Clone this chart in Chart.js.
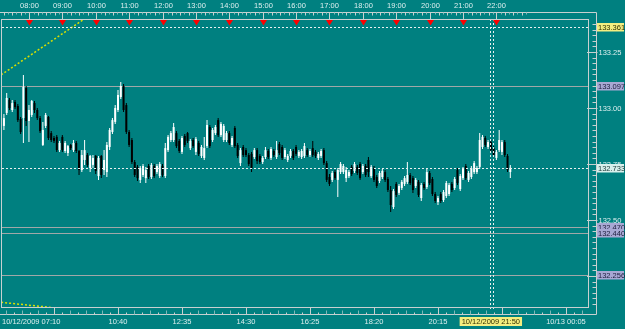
<!DOCTYPE html>
<html><head><meta charset="utf-8">
<script src="https://cdn.jsdelivr.net/npm/chart.js@4/dist/chart.umd.min.js"></script>
<style>html,body{margin:0;padding:0;background:#008080;overflow:hidden}canvas{display:block}</style>
</head><body>
<div style="width:625px;height:329px"><canvas id="c" width="625" height="329"></canvas></div>
<script>
// ---- data ----
const sessionStart = "07:10";      // time of minute 0
const barMinutes = 5;              // M5 candles, first drawn bar = 07:15
const open = [132.920,132.978,133.036,132.991,133.027,133.009,132.951,132.955,133.089,132.942,
132.969,133.022,132.991,132.955,132.835,132.920,132.960,132.888,132.866,132.871,
132.812,132.871,132.808,132.799,132.835,132.812,132.844,132.808,132.723,132.768,
132.790,132.732,132.746,132.786,132.696,132.786,132.723,132.714,132.826,132.893,
132.938,132.991,133.049,133.098,133.013,132.893,132.857,132.759,132.737,132.679,
132.701,132.687,132.741,132.692,132.741,132.714,132.696,132.741,132.696,132.812,
132.857,132.857,132.888,132.853,132.804,132.875,132.888,132.821,132.857,132.804,
132.844,132.786,132.777,132.830,132.915,132.857,132.888,132.946,132.879,132.857,
132.857,132.888,132.835,132.911,132.835,132.754,132.826,132.812,132.790,132.795,
132.781,132.812,132.786,132.759,132.781,132.808,132.777,132.808,132.781,132.839,
132.826,132.781,132.768,132.786,132.808,132.826,132.786,132.781,132.786,132.812,
132.790,132.821,132.804,132.777,132.786,132.812,132.754,132.692,132.679,132.714,
132.679,132.714,132.714,132.687,132.696,132.737,132.719,132.737,132.750,132.714,
132.741,132.768,132.696,132.732,132.692,132.674,132.692,132.714,132.683,132.634,
132.558,132.661,132.621,132.643,132.661,132.670,132.701,132.687,132.652,132.670,
132.598,132.661,132.647,132.710,132.683,132.616,132.580,132.616,132.589,132.607,
132.616,132.661,132.643,132.723,132.638,132.687,132.741,132.679,132.692,132.714,
132.714,132.737,132.826,132.866,132.826,132.848,132.821,132.777,132.812,132.804,
132.848,132.786,132.714];
const high = [132.973,133.067,133.045,133.036,133.036,133.018,132.960,133.147,133.098,133.013,
133.036,133.031,133.000,132.964,132.938,132.978,132.964,132.897,132.875,132.879,
132.853,132.879,132.853,132.835,132.839,132.857,132.853,132.812,132.812,132.857,
132.799,132.790,132.790,132.790,132.786,132.790,132.812,132.848,132.911,132.955,
133.013,133.080,133.116,133.107,133.022,132.902,132.866,132.768,132.746,132.741,
132.750,132.737,132.750,132.754,132.750,132.750,132.759,132.750,132.844,132.879,
132.897,132.933,132.897,132.862,132.875,132.884,132.893,132.862,132.866,132.871,
132.853,132.835,132.871,132.946,132.924,132.911,132.924,132.955,132.938,132.929,
132.897,132.897,132.875,132.920,132.844,132.821,132.835,132.821,132.799,132.804,
132.821,132.821,132.795,132.786,132.826,132.817,132.826,132.817,132.853,132.848,
132.835,132.821,132.795,132.817,132.817,132.835,132.812,132.817,132.844,132.821,
132.817,132.853,132.812,132.804,132.817,132.821,132.763,132.705,132.719,132.723,
132.732,132.759,132.750,132.737,132.723,132.746,132.759,132.746,132.759,132.750,
132.750,132.781,132.746,132.741,132.701,132.719,132.728,132.723,132.692,132.652,
132.638,132.670,132.661,132.679,132.696,132.759,132.710,132.696,132.687,132.679,
132.665,132.670,132.728,132.719,132.692,132.625,132.607,132.625,132.634,132.674,
132.665,132.670,132.692,132.732,132.705,132.737,132.750,132.719,132.741,132.763,
132.741,132.888,132.879,132.875,132.857,132.857,132.830,132.812,132.902,132.857,
132.857,132.795,132.746];
const low = [132.902,132.969,132.991,132.982,132.996,132.938,132.884,132.844,132.920,132.848,
132.960,132.978,132.946,132.888,132.830,132.911,132.857,132.848,132.844,132.804,
132.804,132.804,132.799,132.786,132.812,132.804,132.799,132.701,132.714,132.746,
132.737,132.714,132.732,132.705,132.679,132.687,132.701,132.692,132.812,132.884,
132.929,132.982,133.040,132.982,132.884,132.826,132.750,132.692,132.674,132.665,
132.692,132.665,132.683,132.683,132.687,132.705,132.687,132.692,132.687,132.804,
132.848,132.848,132.821,132.799,132.795,132.826,132.844,132.812,132.821,132.790,
132.786,132.777,132.768,132.821,132.821,132.848,132.879,132.871,132.871,132.848,
132.848,132.835,132.826,132.821,132.777,132.741,132.781,132.781,132.741,132.714,
132.772,132.750,132.750,132.750,132.772,132.772,132.768,132.781,132.772,132.790,
132.768,132.772,132.759,132.777,132.768,132.786,132.777,132.772,132.777,132.781,
132.781,132.781,132.777,132.768,132.777,132.746,132.670,132.652,132.670,132.679,
132.603,132.705,132.705,132.670,132.687,132.696,132.710,132.701,132.679,132.705,
132.692,132.692,132.687,132.670,132.643,132.665,132.683,132.670,132.625,132.536,
132.549,132.603,132.612,132.634,132.652,132.661,132.656,132.621,132.643,132.603,
132.585,132.634,132.638,132.656,132.607,132.576,132.567,132.576,132.580,132.598,
132.607,132.625,132.634,132.656,132.629,132.679,132.679,132.670,132.683,132.705,
132.705,132.728,132.817,132.826,132.817,132.804,132.781,132.768,132.804,132.790,
132.781,132.714,132.687];
const close = [132.955,133.045,133.000,133.022,133.004,132.946,132.893,133.094,132.942,132.991,
133.031,132.991,132.955,132.897,132.902,132.969,132.866,132.857,132.853,132.812,
132.844,132.812,132.844,132.830,132.821,132.844,132.808,132.723,132.790,132.812,
132.746,132.786,132.777,132.719,132.777,132.701,132.768,132.835,132.902,132.946,
133.000,133.058,133.098,132.991,132.893,132.835,132.759,132.701,132.687,132.732,
132.741,132.723,132.692,132.746,132.696,132.741,132.750,132.701,132.821,132.871,
132.888,132.915,132.830,132.808,132.866,132.835,132.853,132.853,132.830,132.862,
132.795,132.826,132.821,132.924,132.830,132.902,132.915,132.879,132.929,132.920,
132.888,132.844,132.866,132.830,132.786,132.812,132.790,132.790,132.750,132.732,
132.812,132.763,132.759,132.777,132.812,132.781,132.817,132.790,132.812,132.799,
132.777,132.812,132.786,132.808,132.777,132.795,132.804,132.808,132.830,132.790,
132.808,132.790,132.786,132.795,132.808,132.754,132.679,132.661,132.710,132.687,
132.723,132.750,132.741,132.723,132.714,132.705,132.750,132.710,132.687,132.741,
132.701,132.714,132.737,132.679,132.652,132.710,132.719,132.679,132.634,132.567,
132.629,132.612,132.652,132.670,132.687,132.701,132.665,132.634,132.679,132.612,
132.656,132.643,132.714,132.665,132.616,132.585,132.598,132.585,132.625,132.665,
132.656,132.634,132.683,132.665,132.696,132.728,132.687,132.710,132.732,132.754,
132.732,132.857,132.871,132.835,132.848,132.812,132.790,132.804,132.857,132.848,
132.790,132.723,132.733];

const hourLabels = ["08:00","09:00","10:00","11:00","12:00","13:00","14:00","15:00","16:00","17:00","18:00","19:00","20:00","21:00","22:00"];
const bottomTickTimes = ["08:45","10:40","12:35","14:30","16:25","18:20","20:15","22:10","+00:05"];
const bottomLabels = [
  {t:"07:10", text:"10/12/2009 07:10", align:"left"},
  {t:"10:40", text:"10:40"},{t:"12:35", text:"12:35"},{t:"14:30", text:"14:30"},
  {t:"16:25", text:"16:25"},{t:"18:20", text:"18:20"},{t:"20:15", text:"20:15"},
  {t:"21:50", text:"10/12/2009 21:50", highlight:true},
  {t:"+00:05", text:"10/13 00:05"}
];
const priceTicks = ["133.25","133.00","132.75","132.50","132.25"];
const levelLines = [133.097, 132.470, 132.440, 132.256];
const dayHigh = 133.361;
const bidPrice = 132.733;
const cursorTime = "21:50";
const trendUp = [{x:0, y:133.148},{x:150, y:133.398}];
const trendDown = [{x:0, y:132.1325},{x:100, y:132.107}];

// ---- helpers ----
function mins(t){
  let add = 0; if (t[0] === '+') { add = 1440; t = t.slice(1); }
  const [h,m] = t.split(':').map(Number);
  const [h0,m0] = sessionStart.split(':').map(Number);
  return h*60 + m - (h0*60 + m0) + add;
}
const xs = close.map((_, i) => (i + 1) * barMinutes);
const isUp = close.map((c, i) => c >= open[i]);
const colr = isUp.map(u => u ? '#ffffff' : '#000000');

const BG = '#008080', FG = '#dcefef', FRAME = '#c8d0d0', LEVEL = '#a0a8a8';
const FONT = '7.5px "Liberation Sans", Arial, sans-serif';

const chrome = {
  id: 'chrome',
  beforeDraw(chart){
    const ctx = chart.ctx; ctx.save(); ctx.fillStyle = BG; ctx.fillRect(0,0,chart.width,chart.height); ctx.restore();
  },
  beforeDatasetsDraw(chart){
    const {ctx, chartArea:a, scales:{y}} = chart;
    ctx.save(); ctx.strokeStyle = LEVEL; ctx.lineWidth = 1;
    levelLines.forEach(p => { const py = Math.round(y.getPixelForValue(p)) + 0.5;
      ctx.beginPath(); ctx.moveTo(a.left, py); ctx.lineTo(a.right, py); ctx.stroke(); });
    ctx.restore();
  },
  afterDatasetsDraw(chart){
    const {ctx, chartArea:a, scales:{x, y}} = chart;
    ctx.save();
    // dotted lines
    ctx.strokeStyle = '#e8f0f0'; ctx.lineWidth = 1; ctx.setLineDash([2,2]);
    [dayHigh, bidPrice].forEach(p => { const py = Math.round(y.getPixelForValue(p)) + 0.5;
      ctx.beginPath(); ctx.moveTo(a.left+1, py); ctx.lineTo(a.right, py); ctx.stroke(); });
    const cx = Math.round(x.getPixelForValue(mins(cursorTime)));
    [cx - 0.5, cx + 2.5].forEach(px => { ctx.beginPath(); ctx.moveTo(px, a.top); ctx.lineTo(px, a.bottom + 3); ctx.stroke(); });
    ctx.setLineDash([]);
    // frame
    ctx.strokeStyle = FRAME; ctx.lineWidth = 1;
    ctx.strokeRect(a.left + 0.5, a.top + 0.5, a.right - a.left - 1, a.bottom - a.top);
    const topY = 12.5, botY = a.bottom + 7.5, rightX = a.right + 7.5;
    ctx.beginPath();
    ctx.moveTo(0, topY); ctx.lineTo(rightX, topY);
    ctx.moveTo(rightX, topY); ctx.lineTo(rightX, botY);
    ctx.moveTo(0, botY); ctx.lineTo(rightX, botY);
    ctx.stroke();
    // top time ticks
    ctx.font = FONT; ctx.fillStyle = FG; ctx.textBaseline = 'middle'; ctx.textAlign = 'center';
    const hourPx = x.getPixelForValue(60) - x.getPixelForValue(0);
    hourLabels.forEach(h => {
      const px = Math.round(x.getPixelForValue(mins(h))) + 0.5;
      ctx.strokeStyle = FRAME;
      ctx.beginPath(); ctx.moveTo(px, topY); ctx.lineTo(px, a.top); ctx.stroke();
      for (let k = 1; k < 8; k++) {
        const q = Math.round(px + k * hourPx / 8) + 0.5; if (q > a.right) break;
        ctx.strokeStyle = k % 2 ? '#7fb8b8' : FRAME;
        ctx.beginPath(); ctx.moveTo(q, topY); ctx.lineTo(q, topY + (k % 2 ? 2 : 3)); ctx.stroke();
      }
      ctx.fillText(h, px, 5.5);
      // red marker
      ctx.fillStyle = '#ff0000';
      ctx.beginPath(); ctx.moveTo(px - 3.5, a.top + 1); ctx.lineTo(px + 3.5, a.top + 1); ctx.lineTo(px, a.top + 6.5); ctx.closePath(); ctx.fill();
      ctx.fillStyle = FG;
    });
    // minor ticks before first hour
    { const px = x.getPixelForValue(mins(hourLabels[0]));
      for (let k = 1; k < 8; k++) { const q = Math.round(px - k * hourPx / 8) + 0.5; if (q < 1) break;
        ctx.strokeStyle = k % 2 ? '#7fb8b8' : FRAME;
        ctx.beginPath(); ctx.moveTo(q, topY); ctx.lineTo(q, topY + (k % 2 ? 2 : 3)); ctx.stroke(); } }
    // bottom time ticks
    const bt = bottomTickTimes.map(t => x.getPixelForValue(mins(t)));
    const step = bt[1] - bt[0];
    bt.forEach((p0, j) => {
      const px = Math.round(p0) + 0.5;
      ctx.strokeStyle = FRAME;
      ctx.beginPath(); ctx.moveTo(px, a.bottom); ctx.lineTo(px, botY); ctx.stroke();
      for (let k = 1; k < 8; k++) {
        const q = Math.round(p0 - k * step / 8) + 0.5; if (q < 1) continue;
        ctx.strokeStyle = k % 2 ? FRAME : '#7fb8b8';
        ctx.beginPath(); ctx.moveTo(q, botY); ctx.lineTo(q, botY - (k % 2 ? 2 : 4)); ctx.stroke();
      }
    });
    for (let k = 1; k < 8; k++) { const q = Math.round(bt[bt.length-1] + k * step / 8) + 0.5; if (q > a.right) break;
      ctx.strokeStyle = k % 2 ? FRAME : '#7fb8b8';
      ctx.beginPath(); ctx.moveTo(q, botY); ctx.lineTo(q, botY - (k % 2 ? 2 : 4)); ctx.stroke(); }
    bottomLabels.forEach(l => {
      const px = x.getPixelForValue(mins(l.t));
      const ly = a.bottom + 14.5;
      if (l.align === 'left') { ctx.textAlign = 'left'; ctx.fillStyle = FG; ctx.fillText(l.text, 2, ly); return; }
      ctx.textAlign = 'center';
      if (l.highlight) {
        const w = ctx.measureText(l.text).width + 4;
        ctx.fillStyle = '#f4ee80'; ctx.fillRect(px - w/2, ly - 4.5, w, 9);
        ctx.fillStyle = '#303000';
      } else ctx.fillStyle = FG;
      ctx.fillText(l.text, px, ly);
    });
    // right price axis
    ctx.textAlign = 'left';
    const pMin = y.min, pMax = y.max;
    for (let p = Math.ceil(pMin / 0.025) * 0.025; p <= pMax; p += 0.025) {
      const py = Math.round(y.getPixelForValue(p)) + 0.5;
      ctx.strokeStyle = FRAME;
      ctx.beginPath(); ctx.moveTo(rightX - 4, py); ctx.lineTo(rightX, py); ctx.stroke();
    }
    priceTicks.forEach(t => {
      const p = parseFloat(t); const py = Math.round(y.getPixelForValue(p)) + 0.5;
      ctx.strokeStyle = FRAME;
      ctx.beginPath(); ctx.moveTo(a.right - 2, py); ctx.lineTo(rightX + 1, py); ctx.stroke();
      ctx.fillStyle = FG; ctx.fillText(t, rightX + 2, py);
    });
    const box = (p, bg, fg) => {
      const py = Math.round(y.getPixelForValue(p));
      ctx.fillStyle = bg; ctx.fillRect(rightX + 0.5, py - 4, 27, 8.5);
      ctx.fillStyle = fg; ctx.fillText(p.toFixed(3), rightX + 1.5, py + 0.5);
    };
    box(dayHigh, '#f4ee80', '#303000');
    levelLines.forEach(p => box(p, '#a8a8d4', '#202040'));
    box(bidPrice, '#d8f0ec', '#204040');
    ctx.restore();
  }
};

new Chart(document.getElementById('c'), {
  data: {
    datasets: [
      { type:'bar', data: xs.map((v,i)=>({x:v, y:[low[i], high[i]]})), backgroundColor: colr,
        barThickness: 1, grouped: false, inflateAmount: 0, borderWidth: 0, order: 3 },
      { type:'bar', data: xs.map((v,i)=>({x:v, y:[open[i], close[i]]})), backgroundColor: colr,
        barThickness: 2, minBarLength: 1, grouped: false, inflateAmount: 0, borderWidth: 0, order: 2 },
      { type:'line', data: trendUp, borderColor:'#d8e000', borderWidth:1.5, borderDash:[2,2], pointRadius:0, order: 1 },
      { type:'line', data: trendDown, borderColor:'#d8e000', borderWidth:1.5, borderDash:[2,2], pointRadius:0, order: 1 }
    ]
  },
  options: {
    responsive:false, animation:false, events:[],
    layout:{padding:{left:1, right:36, top:19, bottom:22}},
    scales:{
      x:{type:'linear', min:-0.23, max:1056.4, display:false, offset:false},
      y:{type:'linear', min:132.1116, max:133.3973, display:false}
    },
    plugins:{legend:{display:false}, tooltip:{enabled:false}}
  },
  plugins:[chrome]
});
</script>
</body></html>
